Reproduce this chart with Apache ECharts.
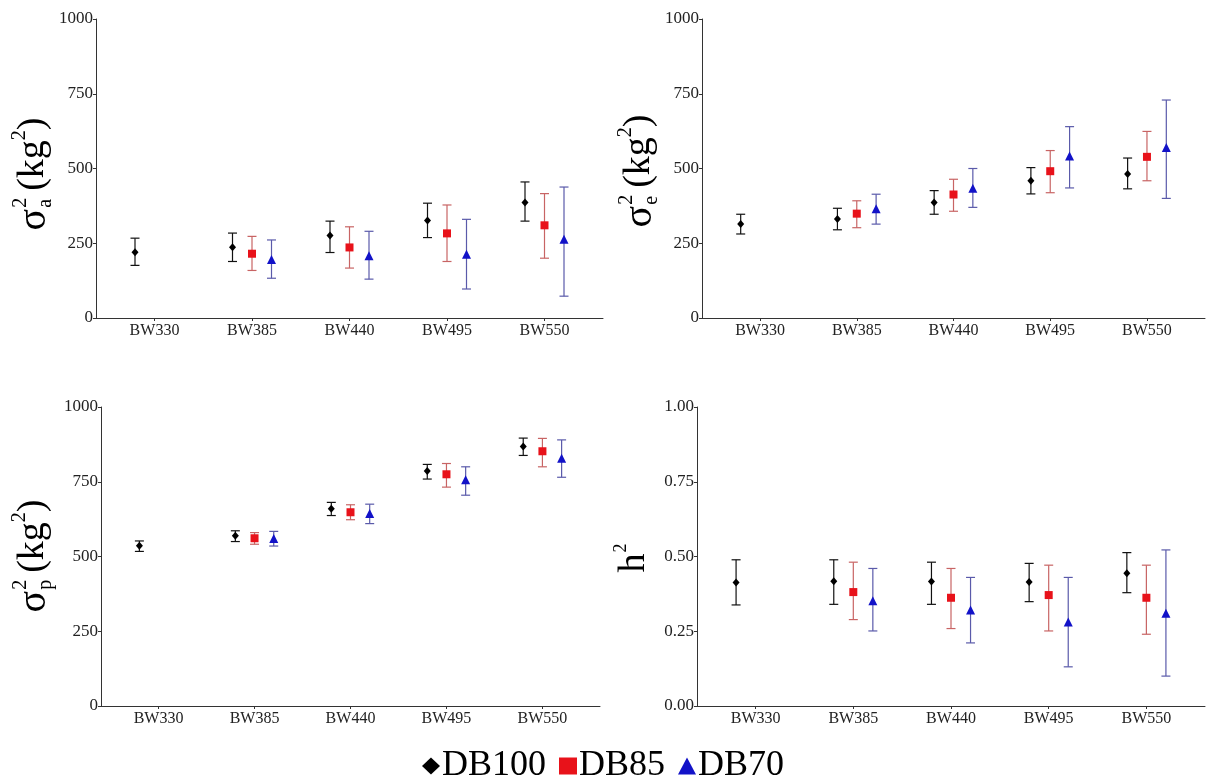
<!DOCTYPE html>
<html><head><meta charset="utf-8">
<script src="https://cdn.jsdelivr.net/npm/echarts@6/dist/echarts.min.js"></script>
<style>html,body{margin:0;padding:0;background:#fff}#c{width:1206px;height:778px}</style>
</head><body><div id="c"></div>
<script>
// ---------------- data ----------------
const categories = ['BW330', 'BW385', 'BW440', 'BW495', 'BW550'];
const groups = ['DB100', 'DB85', 'DB70'];
// each entry: [estimate, lower, upper]; null = not estimated
const sa_DB100 = [[220,176,267],[237,189,284],[276,219,324],[326,269,384],[386,324,455]];
const sa_DB85  = [null,[215,159,273],[236,167,305],[283,189,378],[310,200,416]];
const sa_DB70  = [null,[196,133,261],[208,130,290],[213,97,330],[263,73,438]];
const se_DB100 = [[314,281,347],[331,295,367],[386,347,426],[459,415,503],[482,432,535]];
const se_DB85  = [null,[349,302,392],[413,357,464],[491,419,560],[539,459,624]];
const se_DB70  = [null,[365,314,414],[434,370,500],[542,435,640],[570,400,729]];
const sp_DB100 = [[536,517,552],[569,550,586],[660,637,681],[786,759,808],[868,838,896]];
const sp_DB85  = [null,[561,541,580],[648,623,673],[775,732,811],[852,800,895]];
const sp_DB70  = [null,[560,535,584],[644,610,675],[757,705,800],[829,765,890]];
const h2_DB100 = [[0.413,0.338,0.489],[0.417,0.340,0.489],[0.416,0.340,0.481],[0.415,0.349,0.477],[0.444,0.379,0.513]];
const h2_DB85  = [null,[0.381,0.289,0.481],[0.362,0.259,0.460],[0.371,0.251,0.471],[0.362,0.240,0.471]];
const h2_DB70  = [null,[0.352,0.251,0.460],[0.321,0.211,0.430],[0.281,0.131,0.430],[0.310,0.100,0.522]];

// ---------------- styles ----------------
const FONT = '"Liberation Serif", "Times New Roman", serif';
const pointColor = ['#000000', '#e8121a', '#1212c8'];
const barColor = ['#111111', '#c86464', '#5a5aaa'];
const symbols = ['diamond', 'rect', 'triangle'];
const symbolSizes = [[7, 8], 8, 9];

const panels = [
  { grid: {left: 96, top: 19, width: 507, height: 299}, yMax: 1000, yInt: 250, dec: 0,
    data: [sa_DB100, sa_DB85, sa_DB70], title: {kind: 'sigma', sub: 'a', cy: 174, base: 48} },
  { grid: {left: 702, top: 19, width: 503, height: 299}, yMax: 1000, yInt: 250, dec: 0,
    data: [se_DB100, se_DB85, se_DB70], title: {kind: 'sigma', sub: 'e', cy: 171, base: 654} },
  { grid: {left: 101, top: 407, width: 499, height: 299}, yMax: 1000, yInt: 250, dec: 0,
    data: [sp_DB100, sp_DB85, sp_DB70], title: {kind: 'sigma', sub: 'p', cy: 556, base: 48} },
  { grid: {left: 697, top: 407, width: 508, height: 299}, yMax: 1, yInt: 0.25, dec: 2,
    data: [h2_DB100, h2_DB85, h2_DB70], title: {kind: 'h', cy: 558, base: 647} }
];

const mctx = document.createElement('canvas').getContext('2d');
function tw(t, size) { mctx.font = size + 'px ' + FONT; return mctx.measureText(t).width; }

function txt(t, x, baseY, size) {
  return { type: 'text', x: x, y: baseY - 0.33 * size,
    style: { text: t, fontSize: size, fontFamily: FONT, fill: '#000', align: 'left', verticalAlign: 'middle' } };
}

function titleGraphic(tt) {
  const children = [];
  let x = 0;
  const B = tt.base;
  if (tt.kind === 'sigma') {
    const big = 40, small = 20, par = 38;
    children.push(txt('σ', x, B, big)); x += tw('σ', big) + 1;
    children.push(txt('2', x, B - 21, small));
    children.push(txt(tt.sub, x, B + 4, small));
    x += Math.max(tw('2', small), tw(tt.sub, small)) + 7;
    children.push(txt('(kg', x, B - 2, par)); x += tw('(kg', par);
    children.push(txt('2', x, B - 22, small)); x += tw('2', small);
    children.push(txt(')', x, B - 2, par)); x += tw(')', par);
  } else {
    const big = 38, small = 18;
    children.push(txt('h', x, B, big)); x += tw('h', big) + 1;
    children.push(txt('2', x, B - 20, small)); x += tw('2', small);
  }
  const L = x;
  return { type: 'group', x: 0, y: tt.cy + L / 2, rotation: Math.PI / 2, children: children, silent: true };
}

const grid = [], xAxis = [], yAxis = [], series = [], graphic = [];
panels.forEach((p, i) => {
  grid.push(p.grid);
  xAxis.push({
    type: 'value', gridIndex: i, min: 0.4, max: 5.6,
    axisLine: { show: true, lineStyle: { color: '#333', width: 1 } },
    axisTick: { show: true, length: 3, customValues: [1, 2, 3, 4, 5], lineStyle: { color: '#333' } },
    axisLabel: { customValues: [1, 2, 3, 4, 5], formatter: v => categories[Math.round(v) - 1] || '',
      fontFamily: FONT, fontSize: 16, color: '#222', margin: 5 },
    splitLine: { show: false }
  });
  yAxis.push({
    type: 'value', gridIndex: i, min: 0, max: p.yMax, interval: p.yInt,
    axisLine: { show: true, lineStyle: { color: '#333', width: 1 } },
    axisTick: { show: true, length: 3, lineStyle: { color: '#333' } },
    axisLabel: { formatter: v => v.toFixed(p.dec), fontFamily: FONT, fontSize: 17, color: '#222', margin: 3 },
    splitLine: { show: false }
  });
  graphic.push(titleGraphic(p.title));
  groups.forEach((g, gi) => {
    const err = [], pts = [];
    p.data[gi].forEach((d, ci) => {
      if (!d) return;
      const x = ci + 1 + (gi - 1) * 0.2;
      err.push([x, d[1], d[2]]);
      pts.push([x, d[0]]);
    });
    const col = barColor[gi];
    series.push({
      type: 'custom', name: g + ' CI', xAxisIndex: i, yAxisIndex: i, data: err, silent: true, z: 2,
      encode: { x: 0, y: [1, 2] },
      renderItem: (params, api) => {
        const xv = api.value(0);
        const top = api.coord([xv, api.value(2)]);
        const bot = api.coord([xv, api.value(1)]);
        const w = 4.5;
        const st = { stroke: col, lineWidth: 1.2 };
        return { type: 'group', children: [
          { type: 'line', shape: { x1: top[0], y1: top[1], x2: bot[0], y2: bot[1] }, style: st },
          { type: 'line', shape: { x1: top[0] - w, y1: top[1], x2: top[0] + w, y2: top[1] }, style: st },
          { type: 'line', shape: { x1: bot[0] - w, y1: bot[1], x2: bot[0] + w, y2: bot[1] }, style: st }
        ] };
      }
    });
    series.push({
      type: 'scatter', name: g, xAxisIndex: i, yAxisIndex: i, data: pts, z: 3,
      symbol: symbols[gi], symbolSize: symbolSizes[gi],
      itemStyle: { color: pointColor[gi], opacity: 1 }
    });
  });
});

const chart = echarts.init(document.getElementById('c'), null, { renderer: 'canvas' });
chart.setOption({
  backgroundColor: '#fff',
  animation: false,
  grid: grid, xAxis: xAxis, yAxis: yAxis, series: series, graphic: graphic,
  legend: {
    data: groups.map((g, gi) => ({ name: g, icon: symbols[gi] })),
    left: 'center', top: 743, itemWidth: 18, itemHeight: 17, itemGap: 13,
    textStyle: { fontFamily: FONT, fontSize: 36, color: '#000', padding: [0, 0, 0, -3] },
    selectedMode: false
  }
});
</script></body></html>
